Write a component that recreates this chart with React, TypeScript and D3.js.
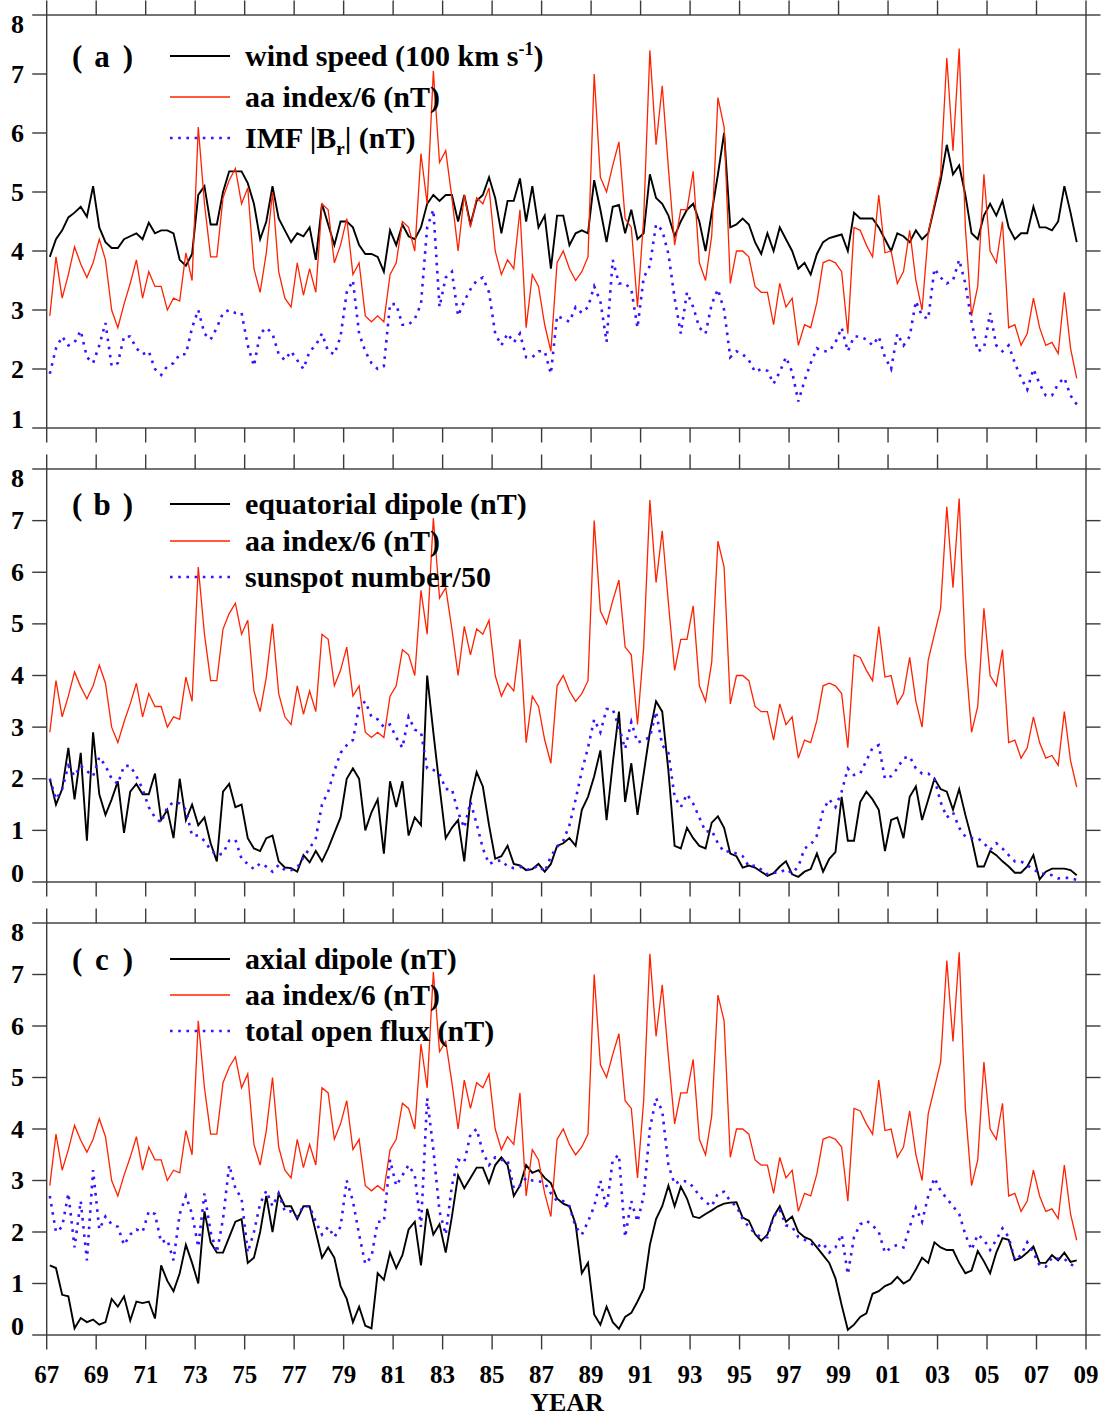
import React from "react";
import * as d3 from "d3";

// quarterly samples, first point at 1967.125
const START_YEAR = 1967.125;
const STEP = 0.25;

const windSpeed = [
  3.9, 4.2, 4.35, 4.57, 4.65, 4.75, 4.58, 5.1, 4.4, 4.15,
  4.05, 4.05, 4.2, 4.25, 4.3, 4.2, 4.48, 4.3, 4.35, 4.35,
  4.3, 3.85, 3.75, 3.95, 4.95, 5.1, 4.45, 4.45, 5.0, 5.35,
  5.35, 5.35, 5.15, 4.8, 4.2, 4.5, 5.1, 4.55, 4.35, 4.15,
  4.3, 4.25, 4.4, 3.85, 4.8, 4.45, 4.1, 4.5, 4.5, 4.4,
  4.1, 3.95, 3.95, 3.9, 3.65, 4.35, 4.1, 4.45, 4.25, 4.2,
  4.4, 4.8, 4.95, 4.85, 4.95, 4.95, 4.5, 4.95, 4.45, 4.85,
  4.95, 5.25, 4.9, 4.3, 4.85, 4.85, 5.23, 4.5, 5.1, 4.4,
  4.6, 3.7, 4.6, 4.6, 4.1, 4.3, 4.35, 4.3, 5.2, 4.7,
  4.15, 4.75, 4.78, 4.3, 4.7, 4.2, 4.3, 5.3, 4.9, 4.8,
  4.6, 4.25, 4.5, 4.7, 4.8, 4.5, 4.0, 4.65, 5.3, 6.0,
  4.4, 4.45, 4.55, 4.45, 4.15, 3.95, 4.3, 4.0, 4.4, 4.2,
  4.0, 3.7, 3.8, 3.6, 3.95, 4.15, 4.22, 4.25, 4.28, 4.0,
  4.65, 4.55, 4.55, 4.55, 4.4, 4.2, 4.0, 4.3, 4.25, 4.15,
  4.35, 4.2, 4.3, 4.75, 5.2, 5.8, 5.3, 5.45, 4.95, 4.3,
  4.2, 4.6, 4.8, 4.6, 4.85, 4.4, 4.2, 4.3, 4.3, 4.75,
  4.4, 4.4, 4.35, 4.5, 5.1, 4.65, 4.15,
];

const aaIndex = [
  2.9, 3.9, 3.2, 3.6, 4.07, 3.78, 3.55, 3.8, 4.2, 3.85,
  3.0, 2.7, 3.1, 3.45, 3.85, 3.2, 3.65, 3.4, 3.4, 3.0,
  3.2, 3.15, 3.97, 3.5, 6.1, 4.8, 3.9, 3.9, 4.9, 5.2,
  5.4, 4.8, 5.07, 3.7, 3.3, 3.97, 5.0, 3.65, 3.2, 3.05,
  3.8, 3.25, 3.7, 3.3, 4.8, 4.7, 3.8, 4.1, 4.55, 3.6,
  3.8, 2.9, 2.8, 2.9, 2.8, 3.6, 3.8, 4.5, 4.4, 4.0,
  5.65, 4.8, 7.05, 5.5, 5.7, 4.9, 4.0, 4.95, 4.4, 4.9,
  4.8, 5.07, 4.0, 3.6, 3.85, 3.7, 4.7, 2.7, 3.6, 3.4,
  2.75, 2.3, 3.8, 4.0, 3.7, 3.5, 3.65, 3.9, 7.0, 5.25,
  5.0, 5.45, 5.85, 4.55, 4.4, 3.05, 4.55, 7.4, 5.8, 6.8,
  5.4, 4.1, 4.7, 4.7, 5.35, 3.8, 3.5, 4.26, 6.6, 6.1,
  3.45, 4.0, 4.0, 3.9, 3.4, 3.3, 3.3, 2.75, 3.45, 3.05,
  3.2, 2.4, 2.75, 2.7, 3.13, 3.8, 3.85, 3.8, 3.65, 2.6,
  4.4, 4.35, 4.1, 3.9, 4.95, 3.97, 4.0, 3.45, 3.65, 4.35,
  3.5, 3.0, 4.3, 4.8, 5.3, 7.27, 5.7, 7.43, 4.4, 2.9,
  3.4, 5.3, 4.0, 3.8, 4.5, 2.7, 2.75, 2.4, 2.6, 3.2,
  2.7, 2.4, 2.45, 2.26, 3.3, 2.35, 1.84,
];

const imfBr = [
  1.92, 2.35, 2.55, 2.4, 2.45, 2.65, 2.2, 2.1, 2.4, 2.78,
  2.05, 2.1, 2.55, 2.55, 2.35, 2.25, 2.3, 2.0, 1.9, 2.05,
  2.1, 2.25, 2.25, 2.7, 3.0, 2.6, 2.5, 2.7, 2.95, 3.0,
  2.95, 2.95, 2.4, 2.05, 2.6, 2.7, 2.6, 2.25, 2.15, 2.3,
  2.15, 2.0, 2.3, 2.4, 2.6, 2.3, 2.25, 2.55, 3.3, 3.5,
  2.6, 2.3, 2.1, 2.0, 2.05, 3.1, 3.1, 2.75, 2.75, 2.85,
  3.1, 4.4, 4.7, 3.05, 3.55, 3.65, 2.9, 3.15, 3.35, 3.5,
  3.55, 3.3, 2.6, 2.4, 2.6, 2.45, 2.6, 2.2, 2.2, 2.3,
  2.3, 1.92, 2.9, 2.85, 2.8, 3.05, 2.95, 3.05, 3.4, 3.15,
  2.46, 3.85, 3.45, 3.45, 3.35, 2.7, 3.55, 3.75, 4.45, 4.35,
  3.95, 3.2, 2.6, 3.3, 3.05, 2.7, 2.6, 3.1, 3.35, 3.0,
  2.2, 2.3, 2.25, 2.15, 1.95, 2.0, 1.97, 1.75, 1.95, 2.2,
  1.95, 1.45, 1.8, 2.1, 2.35, 2.3, 2.3, 2.45, 2.7, 2.3,
  2.55, 2.55, 2.5, 2.4, 2.55, 2.2, 2.0, 2.6, 2.4, 2.55,
  3.15, 2.9, 2.85, 3.7, 3.55, 3.45, 3.5, 3.85, 3.45, 2.8,
  2.3, 2.35, 2.95, 2.4, 2.3, 2.4, 2.1, 1.85, 1.65, 2.0,
  1.75, 1.55, 1.55, 1.75, 1.85, 1.55, 1.4,
];

const equatorialDipole = [
  2.0, 1.5, 1.8, 2.6, 1.6, 2.5, 0.8, 2.9, 1.7, 1.3,
  1.6, 1.95, 0.95, 1.75, 1.9, 1.7, 1.7, 2.1, 1.2, 1.4,
  0.85, 2.0, 1.2, 1.5, 1.1, 1.25, 0.75, 0.4, 1.75, 1.9,
  1.45, 1.5, 0.85, 0.65, 0.6, 0.85, 0.9, 0.4, 0.28, 0.27,
  0.2, 0.52, 0.38, 0.6, 0.4, 0.65, 0.95, 1.25, 2.0, 2.2,
  2.0, 1.0, 1.35, 1.6, 0.55, 1.95, 1.45, 1.95, 0.9, 1.25,
  1.1, 4.0, 2.9, 1.85, 0.85, 1.05, 1.2, 0.4, 1.6, 2.13,
  1.85, 1.1, 0.45, 0.5, 0.7, 0.35, 0.32, 0.23, 0.25, 0.35,
  0.2, 0.35, 0.7, 0.75, 0.85, 0.7, 1.4, 1.65, 2.05, 2.55,
  1.2, 2.3, 3.3, 1.55, 2.3, 1.3, 2.1, 2.9, 3.5, 3.3,
  2.15, 0.7, 0.65, 1.05, 0.85, 0.7, 0.65, 1.15, 1.27, 1.05,
  0.55, 0.5, 0.28, 0.32, 0.28, 0.2, 0.12, 0.17, 0.3, 0.4,
  0.15, 0.1, 0.2, 0.25, 0.55, 0.2, 0.45, 0.58, 1.65, 0.8,
  0.8, 1.55, 1.75, 1.6, 1.4, 0.6, 1.2, 1.25, 0.85, 1.65,
  1.85, 1.2, 1.6, 2.0, 1.8, 1.75, 1.4, 1.8, 1.3, 0.85,
  0.3, 0.3, 0.6, 0.52, 0.4, 0.3, 0.18, 0.18, 0.3, 0.52,
  0.05, 0.2, 0.26, 0.26, 0.26, 0.23, 0.13,
];

const sunspotNumber = [
  2.0, 1.6, 1.8, 2.25, 2.05, 2.25, 2.15, 2.05, 2.42, 2.25,
  2.0, 1.9, 2.25, 2.25, 2.05, 1.8, 1.45, 1.25, 1.15, 1.45,
  1.55, 1.52, 1.4, 0.9, 0.9, 0.8, 0.62, 0.52, 0.55, 0.8,
  0.82, 0.45, 0.35, 0.25, 0.36, 0.3, 0.2, 0.33, 0.23, 0.23,
  0.28, 0.48, 0.65, 0.85, 1.5, 1.75, 2.15, 2.5, 2.65, 2.75,
  3.4, 3.5, 3.2, 3.15, 3.0, 3.05, 2.8, 2.6, 3.2, 2.95,
  2.9, 2.2, 2.17, 2.1, 1.8, 1.8, 1.35, 1.05, 1.55, 1.13,
  0.65, 0.35, 0.4, 0.42, 0.3, 0.27, 0.3, 0.23, 0.26, 0.32,
  0.2, 0.5, 0.68, 0.8, 1.1, 1.6, 2.15, 2.6, 3.15, 2.9,
  3.35, 3.35, 3.0, 2.58, 3.1, 2.7, 2.75, 2.8, 3.3, 2.65,
  2.5, 1.65, 1.45, 1.7, 1.52, 1.25, 0.97, 1.0, 0.75, 0.58,
  0.6, 0.55, 0.5, 0.3, 0.32, 0.24, 0.15, 0.18, 0.18, 0.25,
  0.17, 0.3, 0.65, 0.72, 0.9, 1.39, 1.6, 1.45, 1.75, 2.2,
  2.07, 2.1, 2.35, 2.6, 2.65, 2.0, 2.05, 2.2, 2.4, 2.43,
  2.2, 2.1, 2.1, 2.0, 1.55, 1.25, 1.35, 1.05, 0.88, 0.85,
  0.85, 0.75, 0.62, 0.75, 0.65, 0.52, 0.4, 0.4, 0.32, 0.25,
  0.16, 0.16, 0.13, 0.07, 0.08, 0.08, 0.04,
];

const axialDipole = [
  1.35, 1.3, 0.78, 0.75, 0.13, 0.33, 0.25, 0.3, 0.2, 0.25,
  0.7, 0.55, 0.75, 0.28, 0.65, 0.62, 0.65, 0.32, 1.35, 1.05,
  0.85, 1.2, 1.75, 1.4, 1.0, 2.4, 1.8, 1.6, 1.6, 1.9,
  2.2, 2.25, 1.4, 1.5, 2.0, 2.7, 2.0, 2.75, 2.5, 2.5,
  2.25, 2.5, 2.5, 2.0, 1.5, 1.7, 1.5, 0.95, 0.7, 0.25,
  0.55, 0.18, 0.13, 1.2, 1.07, 1.6, 1.3, 1.55, 2.05, 2.2,
  1.35, 2.45, 1.95, 2.15, 1.6, 2.3, 3.1, 2.85, 3.05, 3.25,
  3.25, 2.95, 3.3, 3.45, 3.3, 2.7, 2.9, 3.3, 3.15, 3.2,
  3.05, 2.95, 2.65, 2.55, 2.5, 2.15, 1.2, 1.4, 0.4, 0.2,
  0.55, 0.25, 0.12, 0.35, 0.43, 0.65, 0.9, 1.75, 2.25, 2.5,
  2.9, 2.5, 2.88, 2.65, 2.3, 2.27, 2.35, 2.42, 2.5, 2.55,
  2.57, 2.58, 2.28, 2.22, 1.96, 1.83, 1.95, 2.3, 2.5, 2.2,
  2.3, 2.0, 1.9, 1.85, 1.7, 1.55, 1.4, 1.1, 0.58, 0.1,
  0.2, 0.35, 0.42, 0.8, 0.85, 0.95, 1.0, 1.13, 1.0, 1.07,
  1.27, 1.5, 1.4, 1.8, 1.7, 1.65, 1.65, 1.4, 1.2, 1.25,
  1.63, 1.43, 1.2, 1.6, 1.88, 1.85, 1.45, 1.5, 1.6, 1.72,
  1.4, 1.4, 1.55, 1.45, 1.6, 1.42, 1.45,
];

const openFlux = [
  2.7, 2.0, 2.1, 2.75, 1.7, 2.6, 1.45, 3.2, 2.05, 2.3,
  2.15, 2.1, 1.75, 1.95, 2.05, 2.0, 2.4, 2.35, 1.8, 1.85,
  1.45, 2.35, 2.7, 2.35, 1.71, 2.75, 2.0, 1.6, 2.25, 3.3,
  2.85, 2.65, 1.6, 2.0, 2.55, 2.8, 2.5, 2.75, 2.4, 2.4,
  2.3, 2.5, 2.5, 2.2, 1.95, 2.1, 1.9, 2.1, 3.0, 2.6,
  1.95, 1.38, 1.52, 2.2, 2.2, 3.4, 2.9, 3.1, 3.3, 3.1,
  2.1, 4.6, 3.6, 2.4, 1.95, 2.9, 3.4, 3.35, 3.9, 4.0,
  3.55, 3.3, 3.45, 3.4, 3.4, 2.85, 2.9, 3.05, 3.0, 2.99,
  2.95, 2.75, 2.6, 2.6, 2.5, 2.1, 1.95, 2.2, 2.5, 3.0,
  2.45, 3.4, 3.5, 1.9, 2.6, 2.2, 2.7, 4.0, 4.6, 4.35,
  3.3, 2.93, 3.0, 2.98, 2.88, 2.7, 2.58, 2.5, 2.75, 2.78,
  2.6, 2.5, 2.25, 2.1, 1.97, 1.9, 1.9, 2.3, 2.43, 2.13,
  2.1, 1.9, 1.85, 1.78, 1.71, 1.78, 1.6, 1.7, 1.95, 1.18,
  1.9, 2.15, 2.22, 2.13, 2.0, 1.6, 1.7, 1.75, 1.7, 2.1,
  2.47, 2.2, 2.7, 3.05, 2.8, 2.65, 2.5, 2.35, 1.95, 1.65,
  1.95, 1.85, 1.65, 1.85, 2.07, 1.9, 1.45, 1.55, 1.8, 1.6,
  1.35, 1.33, 1.5, 1.48, 1.48, 1.37, 1.33,
];

const yearTicks = d3.range(1967, 2010, 2);
const yearLabel = (y: number) => String(y % 100).padStart(2, "0");

const W = 1107;
const H = 1418;
const LEFT = 46.7;
const RIGHT = 1086;
const TICK = 14.5;
const FONT = "'Liberation Serif', 'Times New Roman', Times, serif";
const RED = "#ff2200";
const BLUE = "#3a12ff";

const x = d3.scaleLinear().domain([1967, 2009]).range([LEFT, RIGHT]);

type Series = { values: number[]; kind: "black" | "red" | "blue" };

const panels = [
  {
    tag: "a",
    domain: [1, 8],
    top: 15,
    bottom: 428,
    series: [
      { values: windSpeed, kind: "black" },
      { values: aaIndex, kind: "red" },
      { values: imfBr, kind: "blue" },
    ] as Series[],
    rows: [56, 97, 138],
  },
  {
    tag: "b",
    domain: [0, 8],
    top: 469,
    bottom: 882,
    series: [
      { values: equatorialDipole, kind: "black" },
      { values: aaIndex, kind: "red" },
      { values: sunspotNumber, kind: "blue" },
    ] as Series[],
    rows: [504, 541, 577],
  },
  {
    tag: "c",
    domain: [0, 8],
    top: 923,
    bottom: 1335,
    series: [
      { values: axialDipole, kind: "black" },
      { values: aaIndex, kind: "red" },
      { values: openFlux, kind: "blue" },
    ] as Series[],
    rows: [959, 995, 1031],
  },
];

const strokeFor = (kind: string) =>
  kind === "black"
    ? { stroke: "#000", strokeWidth: 1.9 }
    : kind === "red"
    ? { stroke: RED, strokeWidth: 1.3 }
    : { stroke: BLUE, strokeWidth: 2.6, strokeDasharray: "2.6 5.6" };

function legendText(tag: string, row: number) {
  if (tag === "a") {
    if (row === 0)
      return (
        <>
          wind speed (100 km s
          <tspan dy={-11} fontSize={18}>-1</tspan>
          <tspan dy={11}>)</tspan>
        </>
      );
    if (row === 1) return <>aa index/6 (nT)</>;
    return (
      <>
        IMF |B
        <tspan dy={7} fontSize={19}>r</tspan>
        <tspan dy={-7}>| (nT)</tspan>
      </>
    );
  }
  if (tag === "b") {
    return [<>equatorial dipole (nT)</>, <>aa index/6 (nT)</>, <>sunspot number/50</>][row];
  }
  return [<>axial dipole (nT)</>, <>aa index/6 (nT)</>, <>total open flux (nT)</>][row];
}

function Panel({ p }: { p: (typeof panels)[number] }) {
  const y = d3.scaleLinear().domain(p.domain).range([p.bottom, p.top]);
  const yTicks = d3.range(p.domain[0], p.domain[1] + 1);
  const line = d3
    .line<number>()
    .x((_, i) => x(START_YEAR + i * STEP))
    .y((d) => y(d));
  const frame = "#3a3a3a";

  return (
    <g>
      {/* data */}
      {p.series.map((s, i) => (
        <path key={i} d={line(s.values) || ""} fill="none" strokeLinejoin="miter" {...strokeFor(s.kind)} />
      ))}

      {/* frame */}
      <rect x={LEFT} y={p.top} width={RIGHT - LEFT} height={p.bottom - p.top} fill="none" stroke={frame} strokeWidth={1.4} />

      {/* x ticks top and bottom */}
      {yearTicks.map((t) => (
        <g key={t} stroke={frame} strokeWidth={1.4}>
          <line x1={x(t)} x2={x(t)} y1={p.top} y2={p.top - TICK} />
          <line x1={x(t)} x2={x(t)} y1={p.bottom} y2={p.bottom + TICK} />
        </g>
      ))}

      {/* y ticks left and right */}
      {yTicks.map((v) => (
        <g key={v} stroke={frame} strokeWidth={1.4}>
          <line x1={LEFT - TICK} x2={LEFT} y1={y(v)} y2={y(v)} />
          <line x1={RIGHT} x2={RIGHT + TICK} y1={y(v)} y2={y(v)} />
        </g>
      ))}
      {yTicks.map((v) => {
        const off = v === p.domain[1] ? 17.5 : v === p.domain[0] ? -0.5 : 8.5;
        return (
          <text key={v} x={24} y={y(v) + off} textAnchor="end" fontFamily={FONT} fontWeight="bold" fontSize={26}>
            {v}
          </text>
        );
      })}

      {/* panel tag */}
      <g fontFamily={FONT} fontWeight="bold" fontSize={31}>
        <text x={72} y={p.rows[0] + 11}>(</text>
        <text x={102} y={p.rows[0] + 11} textAnchor="middle">{p.tag}</text>
        <text x={133} y={p.rows[0] + 11} textAnchor="end">)</text>
      </g>

      {/* legend */}
      {p.series.map((s, i) => (
        <g key={i}>
          <line x1={170} x2={230} y1={p.rows[i]} y2={p.rows[i]} {...strokeFor(s.kind)} />
          <text x={245} y={p.rows[i] + 9.5} fontFamily={FONT} fontWeight="bold" fontSize={30}>
            {legendText(p.tag, i)}
          </text>
        </g>
      ))}
    </g>
  );
}

export default function App() {
  const last = panels[panels.length - 1];
  return (
    <svg
      width={W}
      height={H}
      viewBox={`0 0 ${W} ${H}`}
      style={{ position: "absolute", left: 0, top: 0, background: "#fff" }}
    >
      <rect width={W} height={H} fill="#fff" />
      {panels.map((p) => (
        <Panel key={p.tag} p={p} />
      ))}
      {yearTicks.map((t) => (
        <text
          key={t}
          x={x(t)}
          y={last.bottom + 48}
          textAnchor="middle"
          fontFamily={FONT}
          fontWeight="bold"
          fontSize={25}
        >
          {yearLabel(t)}
        </text>
      ))}
      <text x={567} y={1411} textAnchor="middle" fontFamily={FONT} fontWeight="bold" fontSize={26}>
        YEAR
      </text>
    </svg>
  );
}
